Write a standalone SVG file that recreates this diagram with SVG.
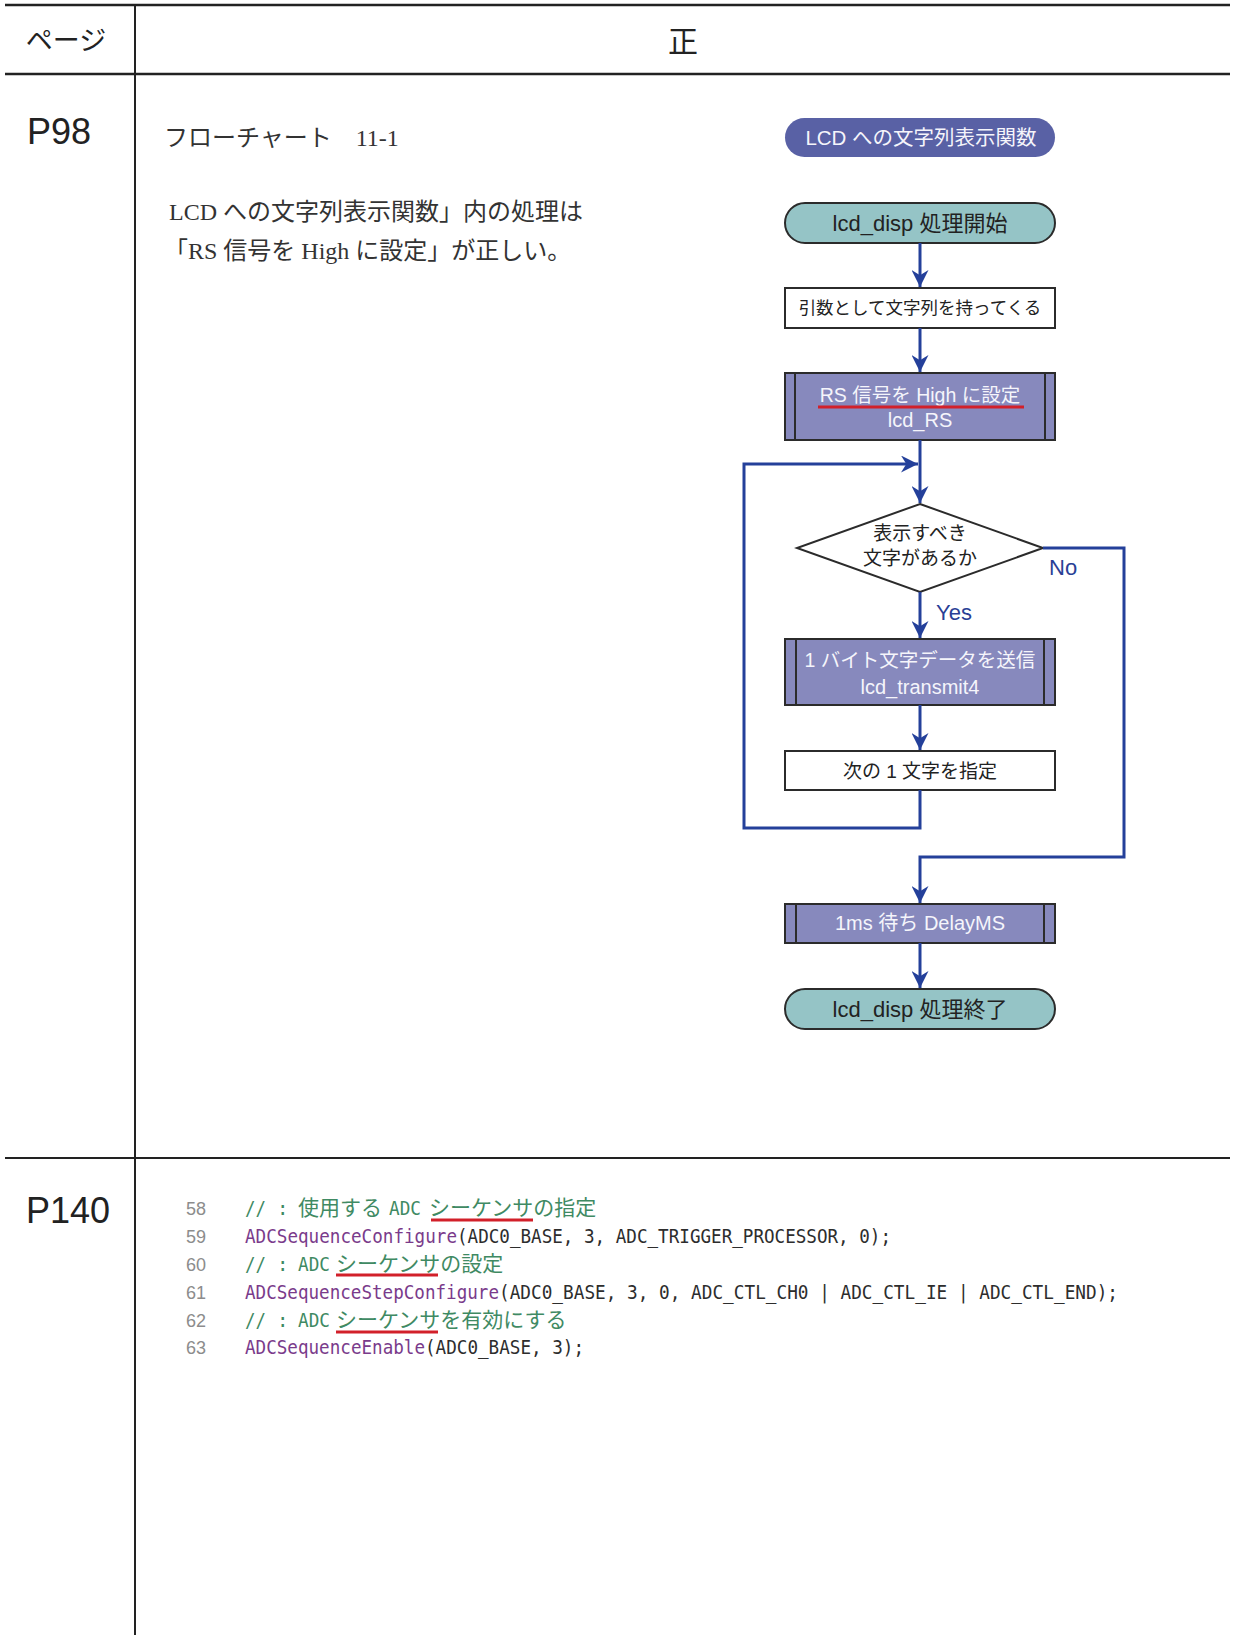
<svg xmlns="http://www.w3.org/2000/svg" width="1239" height="1635" viewBox="0 0 1239 1635">
<defs>
<style>
.grid{stroke:#222;fill:none}
.hdr{font-family:"Liberation Sans","Noto Sans CJK JP",sans-serif;fill:#222}
.pg{font-family:"Liberation Sans","Noto Sans CJK JP",sans-serif;fill:#222;font-size:36px}
.body{font-family:"Liberation Serif","Noto Sans CJK JP",serif;fill:#333;font-size:24px}
.fc{font-family:"Liberation Sans","Noto Sans CJK JP",sans-serif;text-anchor:middle}
.dark{fill:#222}
.light{fill:#f5f5fb}
.box{stroke:#2b2b2b;stroke-width:2}
.term{fill:#95c4c6}
.sub{fill:#8789bd}
.plain{fill:#fff}
.conn{fill:none;stroke:#24409a;stroke-width:3}
.lbl{font-family:"Liberation Sans",sans-serif;fill:#2a3f96;font-size:22px}
.ln{font-family:"Liberation Sans",sans-serif;fill:#8c8c8c;font-size:18px}
.mono{font-family:"DejaVu Sans Mono","Liberation Mono",monospace;font-size:19px}
.cjk{font-family:"Noto Sans CJK JP",sans-serif;font-size:21px}
.cm{fill:#3f8a63}
.fn{fill:#7a3b8b}
.tx{fill:#2d2d2d}
.red{stroke:#d2202a;stroke-width:3;fill:none}
</style>
<marker id="ah" markerUnits="userSpaceOnUse" markerWidth="17" markerHeight="17" viewBox="0 0 16 16" refX="16" refY="8" orient="auto">
<path d="M0,0 L16,8 L0,16 L5,8 z" fill="#24409a"/>
</marker>
</defs>

<g id="table">
<line class="grid" x1="5" y1="5" x2="1230" y2="5" stroke-width="2.6"/>
<line class="grid" x1="5" y1="74" x2="1230" y2="74" stroke-width="2.6"/>
<line class="grid" x1="5" y1="1158" x2="1230" y2="1158" stroke-width="2"/>
<line class="grid" x1="135" y1="5" x2="135" y2="1635" stroke-width="2"/>
<text class="hdr" x="66" y="50" font-size="27" text-anchor="middle">ページ</text>
<text class="hdr" x="683" y="52" font-size="30" text-anchor="middle">正</text>
<text class="pg" x="27" y="144">P98</text>
<text class="pg" x="26" y="1223">P140</text>
</g>

<g id="note">
<text class="body" x="164" y="146">フローチャート　11-1</text>
<text class="body" x="169" y="220">LCD への文字列表示関数」内の処理は</text>
<text class="body" x="164" y="259">「RS 信号を High に設定」が正しい。</text>
</g>

<g id="title">
<rect x="785" y="118" width="270" height="39" rx="19.5" fill="#5961a5"/>
<text class="fc light" x="921" y="145" font-size="20.5">LCD への文字列表示関数</text>
</g>

<g id="start">
<rect class="box term" x="785" y="203" width="270" height="40" rx="20"/>
<text class="fc dark" x="920" y="231" font-size="22">lcd_disp 処理開始</text>
</g>

<g id="args">
<rect class="box plain" x="785" y="288" width="270" height="40"/>
<text class="fc dark" x="920" y="314" font-size="17.5">引数として文字列を持ってくる</text>
</g>

<g id="rs">
<rect class="box sub" x="785" y="373" width="270" height="67"/>
<line class="box" x1="795" y1="373" x2="795" y2="440"/>
<line class="box" x1="1045" y1="373" x2="1045" y2="440"/>
<text class="fc light" x="920" y="402" font-size="19.5">RS 信号を High に設定</text>
<line class="red" x1="818" y1="407" x2="1024" y2="407"/>
<text class="fc light" x="920" y="427" font-size="20">lcd_RS</text>
</g>

<g id="decision">
<polygon class="box plain" points="920,504 1043,548 920,592 797,548"/>
<text class="fc dark" x="920" y="540" font-size="19">表示すべき</text>
<text class="fc dark" x="920" y="565" font-size="19">文字があるか</text>
</g>

<g id="send">
<rect class="box sub" x="785" y="639" width="270" height="66"/>
<line class="box" x1="796" y1="639" x2="796" y2="705"/>
<line class="box" x1="1044" y1="639" x2="1044" y2="705"/>
<text class="fc light" x="920" y="667" font-size="19.5">1 バイト文字データを送信</text>
<text class="fc light" x="920" y="694" font-size="20">lcd_transmit4</text>
</g>

<g id="next">
<rect class="box plain" x="785" y="751" width="270" height="39"/>
<text class="fc dark" x="920" y="778" font-size="19">次の 1 文字を指定</text>
</g>

<g id="delay">
<rect class="box sub" x="785" y="904" width="270" height="39"/>
<line class="box" x1="796" y1="904" x2="796" y2="943"/>
<line class="box" x1="1044" y1="904" x2="1044" y2="943"/>
<text class="fc light" x="920" y="930" font-size="20">1ms 待ち DelayMS</text>
</g>

<g id="end">
<rect class="box term" x="785" y="989" width="270" height="40" rx="20"/>
<text class="fc dark" x="920" y="1017" font-size="22">lcd_disp 処理終了</text>
</g>

<g id="connectors">
<path class="conn" d="M920,243 V287" marker-end="url(#ah)"/>
<path class="conn" d="M920,328 V372" marker-end="url(#ah)"/>
<path class="conn" d="M920,440 V503" marker-end="url(#ah)"/>
<path class="conn" d="M920,790 V828 H744 V464 H918" marker-end="url(#ah)"/>
<path class="conn" d="M920,592 V638" marker-end="url(#ah)"/>
<path class="conn" d="M920,705 V750" marker-end="url(#ah)"/>
<path class="conn" d="M1043,548 H1124 V857 H920 V903" marker-end="url(#ah)"/>
<path class="conn" d="M920,943 V988" marker-end="url(#ah)"/>
<text class="lbl" x="936" y="620">Yes</text>
<text class="lbl" x="1049" y="575">No</text>
</g>

<g id="code">
<text class="ln" x="186" y="1215">58</text>
<text class="ln" x="186" y="1243">59</text>
<text class="ln" x="186" y="1271">60</text>
<text class="ln" x="186" y="1299">61</text>
<text class="ln" x="186" y="1327">62</text>
<text class="ln" x="186" y="1354">63</text>

<text class="mono cm" x="245" y="1215" textLength="21" lengthAdjust="spacingAndGlyphs">//</text>
<text class="mono cm" x="277" y="1215">:</text>
<text class="cjk cm" x="298" y="1215">使用する</text>
<text class="mono cm" x="389" y="1215" textLength="32" lengthAdjust="spacingAndGlyphs">ADC</text>
<text class="cjk cm" x="429" y="1215">シーケンサの指定</text>

<text class="mono fn" x="245" y="1243" textLength="212" lengthAdjust="spacingAndGlyphs">ADCSequenceConfigure</text>
<text class="mono tx" x="457" y="1243" textLength="434" lengthAdjust="spacingAndGlyphs">(ADC0_BASE, 3, ADC_TRIGGER_PROCESSOR, 0);</text>

<text class="mono cm" x="245" y="1271" textLength="21" lengthAdjust="spacingAndGlyphs">//</text>
<text class="mono cm" x="277" y="1271">:</text>
<text class="mono cm" x="298" y="1271" textLength="32" lengthAdjust="spacingAndGlyphs">ADC</text>
<text class="cjk cm" x="336" y="1271">シーケンサの設定</text>

<text class="mono fn" x="245" y="1299" textLength="254" lengthAdjust="spacingAndGlyphs">ADCSequenceStepConfigure</text>
<text class="mono tx" x="499" y="1299" textLength="619" lengthAdjust="spacingAndGlyphs">(ADC0_BASE, 3, 0, ADC_CTL_CH0 | ADC_CTL_IE | ADC_CTL_END);</text>

<text class="mono cm" x="245" y="1327" textLength="21" lengthAdjust="spacingAndGlyphs">//</text>
<text class="mono cm" x="277" y="1327">:</text>
<text class="mono cm" x="298" y="1327" textLength="32" lengthAdjust="spacingAndGlyphs">ADC</text>
<text class="cjk cm" x="336" y="1327">シーケンサを有効にする</text>

<text class="mono fn" x="245" y="1354" textLength="180" lengthAdjust="spacingAndGlyphs">ADCSequenceEnable</text>
<text class="mono tx" x="425" y="1354" textLength="159" lengthAdjust="spacingAndGlyphs">(ADC0_BASE, 3);</text>

<line class="red" x1="431" y1="1220" x2="533" y2="1220"/>
<line class="red" x1="336" y1="1275" x2="438" y2="1275"/>
<line class="red" x1="336" y1="1332" x2="438" y2="1332"/>
</g>
</svg>
